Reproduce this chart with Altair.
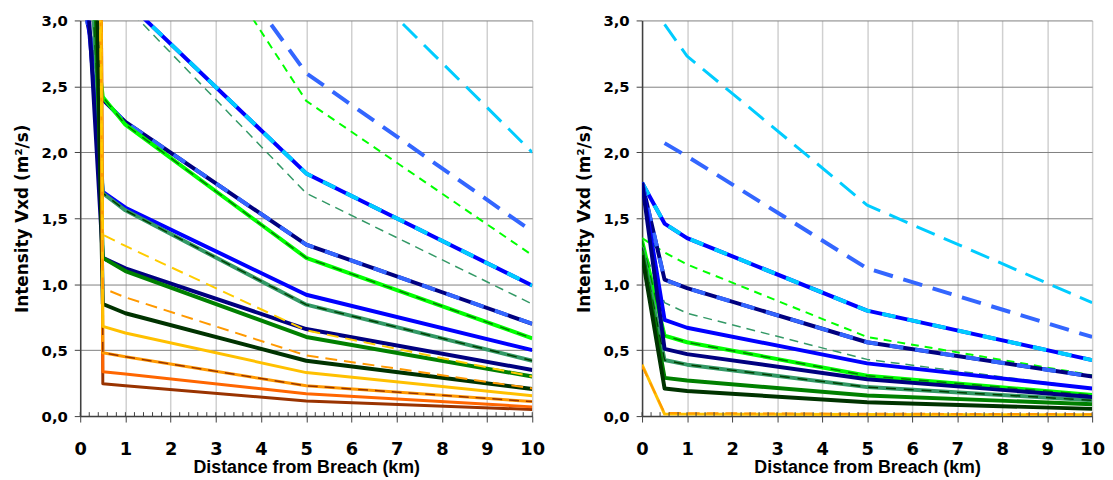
import altair as alt
import pandas as pd

# distances (km) where each series is sampled
X_KM = [0, 0.5, 1, 5, 10]
# minor tick positions on the x axis (every 0.2 km)
MINOR_TICKS = [0.0, 0.2, 0.4, 0.6, 0.8, 1.0, 1.2, 1.4, 1.6, 1.8, 2.0, 2.2, 2.4, 2.6, 2.8,
               3.0, 3.2, 3.4, 3.6, 3.8, 4.0, 4.2, 4.4, 4.6, 4.8, 5.0, 5.2, 5.4, 5.6, 5.8,
               6.0, 6.2, 6.4, 6.6, 6.8, 7.0, 7.2, 7.4, 7.6, 7.8, 8.0, 8.2, 8.4, 8.6, 8.8,
               9.0, 9.2, 9.4, 9.6, 9.8, 10.0]
Y_TICKS = [0, 0.5, 1, 1.5, 2, 2.5, 3]
X_TICKS = [0, 1, 2, 3, 4, 5, 6, 7, 8, 9, 10]

# ---- left panel: intensity values at X_KM ----
L_CYAN_DASH = [None, 7.0, 6.0, 3.70, 2.00]
L_ROYAL_DASH = [None, 4.9, 4.5, 2.60, 1.40]
L_LIME_DASH = [None, 4.9, 4.5, 2.39, 1.22]
L_SEA_DASH = [None, 3.3, 3.11, 1.69, 0.85]
L_BLUE_CYAN = [None, 3.4, 3.15, 1.84, 0.99]
L_NAVY_ROYAL = [3.26, 2.40, 2.23, 1.30, 0.70]
L_LIME = [3.87, 2.42, 2.21, 1.20, 0.59]
L_BLUE = [3.73, 1.70, 1.58, 0.92, 0.50]
L_SEA = [4.97, 1.69, 1.56, 0.845, 0.42]
L_NAVY = [4.20, 1.20, 1.12, 0.66, 0.35]
L_GREEN = [7.20, 1.20, 1.10, 0.60, 0.30]
L_DKGREEN = [9.80, 0.85, 0.78, 0.42, 0.205]
L_BROWN = [46.0, 0.245, 0.23, 0.115, 0.05]
L_ORANGERED = [44.7, 0.336, 0.32, 0.17, 0.07]
L_ORANGE = [42.0, 0.48, 0.45, 0.23, 0.11]
L_YELLOW = [29.7, 0.68, 0.63, 0.33, 0.155]
L_ORANGE_DASH = [21.0, 0.97, 0.90, 0.46, 0.21]
L_YELLOW_DASH = [14.9, 1.375, 1.29, 0.65, 0.30]

# ---- right panel: intensity values at X_KM ----
R_CYAN_DASH = [None, 2.97, 2.73, 1.60, 0.86]
R_ROYAL_DASH = [None, 2.07, 1.97, 1.12, 0.60]
R_LIME_DASH = [1.35, 1.24, 1.15, 0.60, 0.31]
R_SEA_DASH = [1.30, 0.86, 0.78, 0.43, 0.21]
R_BLUE_CYAN = [1.77, 1.46, 1.35, 0.80, 0.425]
R_NAVY_ROYAL = [1.77, 1.035, 0.97, 0.56, 0.30]
R_LIME = [1.33, 0.61, 0.56, 0.306, 0.16]
R_BLUE = [1.77, 0.73, 0.67, 0.40, 0.21]
R_SEA = [1.28, 0.425, 0.39, 0.22, 0.12]
R_NAVY = [1.77, 0.51, 0.47, 0.28, 0.145]
R_GREEN = [1.25, 0.29, 0.27, 0.156, 0.09]
R_DKGREEN = [1.22, 0.21, 0.19, 0.105, 0.055]
R_YELLOW = [0.39, 0.015, 0.015, 0.012, 0.01]
R_ORANGE_DASH = [0.38, 0.025, 0.022, 0.018, 0.015]

LEFT = {
    "cyan_dash": L_CYAN_DASH, "royal_dash": L_ROYAL_DASH, "lime_dash": L_LIME_DASH,
    "sea_dash": L_SEA_DASH, "blue_cyan": L_BLUE_CYAN, "navy_royal": L_NAVY_ROYAL,
    "lime": L_LIME, "blue": L_BLUE, "sea": L_SEA, "navy": L_NAVY, "green": L_GREEN,
    "dkgreen": L_DKGREEN, "brown": L_BROWN, "orangered": L_ORANGERED, "orange": L_ORANGE,
    "yellow": L_YELLOW, "orange_dash": L_ORANGE_DASH, "yellow_dash": L_YELLOW_DASH,
}
RIGHT = {
    "cyan_dash": R_CYAN_DASH, "royal_dash": R_ROYAL_DASH, "lime_dash": R_LIME_DASH,
    "sea_dash": R_SEA_DASH, "blue_cyan": R_BLUE_CYAN, "navy_royal": R_NAVY_ROYAL,
    "lime": R_LIME, "blue": R_BLUE, "sea": R_SEA, "navy": R_NAVY, "green": R_GREEN,
    "dkgreen": R_DKGREEN, "yellow": R_YELLOW, "orange_dash": R_ORANGE_DASH,
}

# style: list of (color, width, dash) strokes drawn in order
STYLE = {
    "cyan_dash": [("#00CCFF", 3, [20, 10])],
    "royal_dash": [("#3366FF", 4, [20, 11])],
    "lime_dash": [("#00FF00", 2, [8, 6])],
    "sea_dash": [("#339966", 1.5, [9, 6])],
    "blue_cyan": [("#0000FF", 4, None), ("#00CCFF", 4, [14, 12])],
    "navy_royal": [("#000080", 4, None), ("#3366FF", 4, [14, 12])],
    "lime": [("#00FF00", 4, None), ("#008000", 1.5, [10, 8])],
    "blue": [("#0000FF", 4, None)],
    "sea": [("#339966", 4, None), ("#004000", 1.5, [10, 8])],
    "navy": [("#000080", 4, None)],
    "green": [("#008000", 4, None)],
    "dkgreen": [("#003300", 4, None)],
    "brown": [("#993300", 3, None)],
    "orangered": [("#FF6600", 3, None)],
    "orange": [("#FF9900", 3, None), ("#993300", 1.5, [10, 7])],
    "yellow": [("#FFC000", 3, None)],
    "orange_dash": [("#FF9900", 2, [12, 7])],
    "yellow_dash": [("#FFCC00", 2, [12, 7])],
}
ORDER = ["cyan_dash", "royal_dash", "lime_dash", "sea_dash", "blue_cyan", "navy_royal",
         "lime", "blue", "sea", "navy", "green", "dkgreen", "brown", "orangered",
         "orange", "yellow", "orange_dash", "yellow_dash"]

FONT = "DejaVu Sans"
TITLE_FONT = "Liberation Sans"


def panel(values, width, height):
    rows = []
    for name, vals in values.items():
        for x, v in zip(X_KM, vals):
            if v is not None:
                rows.append({"s": name, "x": x, "v": v})
    df = pd.DataFrame(rows)
    xs = alt.Scale(domain=[0, 10], nice=False, zero=False)
    ys = alt.Scale(domain=[0, 3], nice=False)
    xaxis = alt.Axis(values=X_TICKS, title="Distance from Breach (km)", grid=True,
                     gridColor="#d0d0d0", gridWidth=1.5, tickSize=6,
                     labelPadding=19, labelFontSize=18, titleFontSize=18,
                     titleFont=TITLE_FONT, titlePadding=0, labelFlush=False)
    yaxis = alt.Axis(values=Y_TICKS, title="Intensity Vxd (m²/s)", grid=True,
                     gridColor="#7f7f7f", gridWidth=1, tickSize=6, labelPadding=7,
                     labelFontSize=15, titleFontSize=17, titlePadding=10,
                     labelExpr="replace(format(datum.value, '.1f'), '.', ',')")
    xenc = alt.X("x:Q", scale=xs, axis=xaxis)
    yenc = alt.Y("v:Q", scale=ys, axis=yaxis)
    base = alt.Chart(df)
    layers = []
    for name in ORDER:
        if name not in values:
            continue
        for color, w, dash in STYLE[name]:
            kw = dict(color=color, strokeWidth=w, clip=True, strokeJoin="round")
            if dash:
                kw["strokeDash"] = dash
            layers.append(
                base.transform_filter(alt.datum.s == name).mark_line(**kw).encode(x=xenc, y=yenc)
            )
    ticks = alt.Chart(pd.DataFrame({"t": MINOR_TICKS})).mark_rule(
        color="#404040", strokeWidth=1
    ).encode(x=alt.X("t:Q", scale=xs, axis=xaxis), y=alt.value(height), y2=alt.value(height - 4))
    return alt.layer(*layers, ticks).properties(width=width, height=height)


left = panel(LEFT, 457, 400)
right = panel(RIGHT, 455, 400)

chart = alt.hconcat(left, right, spacing=30).properties(
    padding={"left": 5, "top": 3, "right": 0, "bottom": 0}
).configure_view(stroke=None).configure_axis(
    labelFont=FONT, titleFont=FONT, labelFontWeight="bold", titleFontWeight="bold",
    labelColor="#000000", titleColor="#000000", domainColor="#404040",
    tickColor="#404040", domainWidth=1.5
)

chart.save("out.html", embed_options={"renderer": "svg", "actions": False})
